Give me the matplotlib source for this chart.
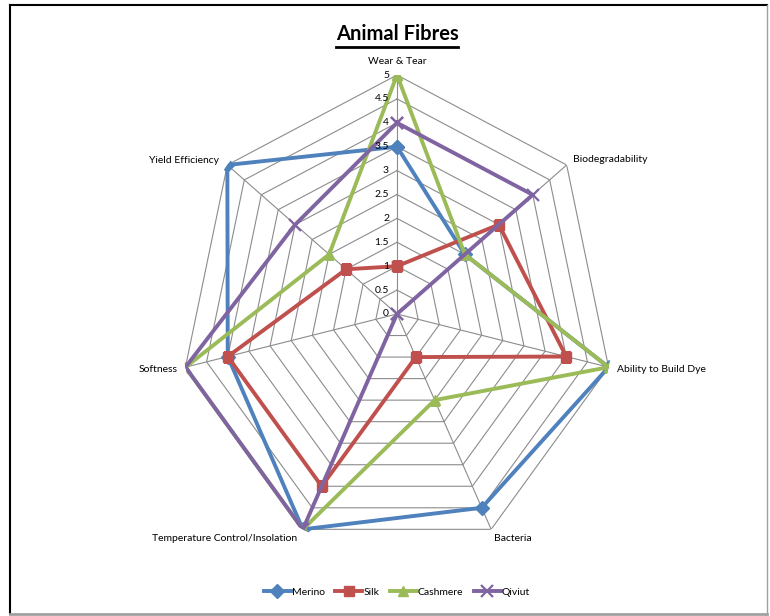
import numpy as np
import matplotlib
matplotlib.use('Agg')
import matplotlib.pyplot as plt
from matplotlib.lines import Line2D

plt.rcParams['font.family'] = ['Lato', 'DejaVu Sans']

categories = ['Wear & Tear', 'Biodegradability', 'Ability to Build Dye', 'Bacteria',
              'Temperature Control/Insolation', 'Softness', 'Yield Efficiency']
merino = [3.5, 2, 5, 4.5, 5, 4, 5]
silk = [1, 3, 4, 1, 4, 4, 1.5]
cashmere = [5, 2, 5, 2, 5, 5, 2]
qiviut = [4, 4, 0, 0, 5, 5, 3]
rings = [0, 0.5, 1, 1.5, 2, 2.5, 3, 3.5, 4, 4.5, 5]
ring_labels = ['0', '0.5', '1', '1.5', '2', '2.5', '3', '3.5', '4', '4.5', '5']

series = [('Merino', merino, '#4F81BD', 'D'),
          ('Silk', silk, '#C0504D', 's'),
          ('Cashmere', cashmere, '#9BBB59', '^'),
          ('Qiviut', qiviut, '#8064A2', 'x')]

n = len(categories)
angles = np.linspace(0, 2 * np.pi, n, endpoint=False)
closed = np.append(angles, angles[0])

fig = plt.figure(figsize=(7.7, 6.16), dpi=100)
ax = fig.add_axes([180 / 770, 63 / 616, 434 / 770, 478 / 616], projection='polar')
ax.set_aspect('auto')
ax.set_theta_offset(np.pi / 2)
ax.set_theta_direction(-1)
ax.set_ylim(0, 5)
ax.grid(False)
ax.set_xticks([])
ax.set_yticks([])
ax.spines['polar'].set_visible(False)
ax.patch.set_visible(False)

# polygon grid like excel radar
for r in rings[1:]:
    ax.plot(closed, [r] * (n + 1), color='#8c8c8c', lw=0.8, zorder=1)
for a in angles:
    ax.plot([a, a], [0, 5], color='#8c8c8c', lw=0.8, zorder=1)

for name, vals, col, mk in series:
    v = np.append(vals, vals[0])
    if mk == 'x':
        ax.plot(closed, v, color=col, lw=2.8, marker=mk, ms=8, mew=1.6, label=name, zorder=3)
    else:
        ax.plot(closed, v, color=col, lw=2.8, marker=mk, ms=7.5, mfc=col, mec=col,
                label=name, zorder=3)

for r, lab in zip(rings, ring_labels):
    ax.annotate(lab, xy=(0, r), xytext=(-8, 0), textcoords='offset pixels',
                ha='right', va='center', fontsize=7.5)

offsets = [((0, 9), 'center', 'bottom'),
           ((6, 5), 'left', 'center'),
           ((8, -2), 'left', 'center'),
           ((3, -5), 'left', 'top'),
           ((-6, -5), 'right', 'top'),
           ((-8, -2), 'right', 'center'),
           ((-8, 4), 'right', 'center')]
for a, lab, (off, ha, va) in zip(angles, categories, offsets):
    ax.annotate(lab, xy=(a, 5), xytext=off, textcoords='offset pixels',
                ha=ha, va=va, fontsize=7.5)

title = fig.text(397 / 770, 1 - 34 / 616, 'Animal Fibres', ha='center', va='center',
                 fontsize=14.5, fontweight='bold')
fig.canvas.draw()
bb = title.get_window_extent().transformed(fig.transFigure.inverted())
fig.add_artist(Line2D([bb.x0, bb.x1], [bb.y0 - 0.005, bb.y0 - 0.005],
                      color='black', lw=2, transform=fig.transFigure))

fig.legend(loc='center', bbox_to_anchor=(397 / 770, 1 - 592 / 616), ncol=4,
           frameon=False, fontsize=7.5, handlelength=2.6, handletextpad=0.1,
           columnspacing=1.0)

# chart border
x0, x1 = 10 / 770, 767 / 770
y0, y1 = 2 / 616, 611 / 616
fig.add_artist(Line2D([x0, x1], [y1, y1], color='black', lw=1.5, transform=fig.transFigure))
fig.add_artist(Line2D([x0, x0], [y0, y1], color='black', lw=1.5, transform=fig.transFigure))
fig.add_artist(Line2D([x0, x1], [y0, y0], color='#a0a0a0', lw=2, transform=fig.transFigure))
fig.add_artist(Line2D([x1, x1], [y0, y1], color='#a0a0a0', lw=1, transform=fig.transFigure))

fig.savefig('out.png', dpi=100)
